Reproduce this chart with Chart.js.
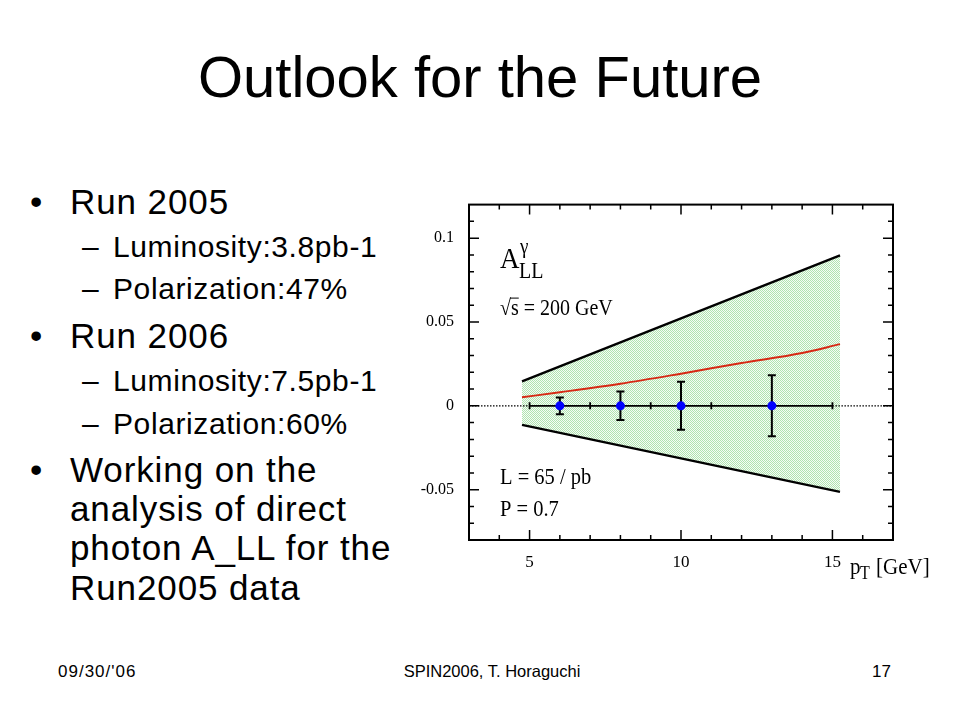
<!DOCTYPE html>
<html>
<head>
<meta charset="utf-8">
<script src="https://cdn.jsdelivr.net/npm/chart.js@4.4.1/dist/chart.umd.min.js"></script>
<style>
  body { margin: 0; background: #fff; }
  #slide { position: relative; width: 960px; height: 720px; overflow: hidden; font-family: "Liberation Sans", Arial, sans-serif; color: #000; }
  .t { position: absolute; white-space: nowrap; line-height: 1; }
  #plot { position: absolute; left: 400px; top: 180px; }
</style>
</head>
<body>
<div id="slide">
  <canvas id="plot" width="560" height="420"></canvas>
</div>
<script>
// slide text
const title = 'Outlook for the Future';
const bullets = [
  { lvl: 1, text: 'Run 2005', base: 214 },
  { lvl: 2, text: 'Luminosity:3.8pb-1', base: 257 },
  { lvl: 2, text: 'Polarization:47%', base: 299 },
  { lvl: 1, text: 'Run 2006', base: 348 },
  { lvl: 2, text: 'Luminosity:7.5pb-1', base: 391 },
  { lvl: 2, text: 'Polarization:60%', base: 434 },
  { lvl: 1, text: 'Working on the', base: 482 },
  { lvl: 0, text: 'analysis of direct', base: 521 },
  { lvl: 0, text: 'photon A_LL for the', base: 560 },
  { lvl: 0, text: 'Run2005 data', base: 600 }
];
const footer = ["09/30/'06", 'SPIN2006, T. Horaguchi', '17'];

// chart data
const bandX = [4.75, 15.25];
const bandUpper = [0.0146, 0.0897];
const bandLower = [-0.0113, -0.0513];
const theoryX = [4.75, 6, 8, 10, 12, 14, 15.25];
const theoryY = [0.0051, 0.0081, 0.0132, 0.0192, 0.0255, 0.0315, 0.0368];
const ptX = [6, 8, 10, 13];
const ptY = [0, 0, 0, 0];
const ptErr = [0.005, 0.0085, 0.0143, 0.0182];
const axisTicksX = [5, 7, 9, 11, 13, 15];
const xLabels = [5, 10, 15];
const yLabels = [-0.05, 0, 0.05, 0.1];

const slide = document.getElementById('slide');
function addText(txt, x, base, size, extra) {
  const d = document.createElement('div');
  d.className = 't';
  d.textContent = txt;
  d.style.fontSize = size + 'px';
  d.style.top = (base - 0.8465 * size) + 'px';
  d.style.left = x + 'px';
  Object.assign(d.style, extra || {});
  slide.appendChild(d);
  return d;
}
addText(title, 0, 97, 58, { width: '960px', textAlign: 'center' });
bullets.forEach(b => {
  if (b.lvl === 2) {
    addText('\u2013', 82, b.base, 30);
    addText(b.text, 113, b.base, 30, { letterSpacing: '0.6px' });
  } else {
    if (b.lvl === 1) addText('\u2022', 30, b.base, 35);
    addText(b.text, 70, b.base, 35, { letterSpacing: '0.9px' });
  }
});
addText(footer[0], 58, 677, 17, { letterSpacing: '1px' });
addText(footer[1], 0, 677, 16.5, { width: '984px', textAlign: 'center' });
addText(footer[2], 872, 677, 17);

// hatched green fill
const pc = document.createElement('canvas');
pc.width = 2; pc.height = 2;
const pctx = pc.getContext('2d');
pctx.fillStyle = 'rgb(246,252,246)'; pctx.fillRect(0, 0, 2, 2);
pctx.fillStyle = 'rgb(176,228,176)'; pctx.fillRect(0, 0, 1, 1); pctx.fillRect(1, 1, 1, 1);
const hatch = pctx.createPattern(pc, 'repeat');

const xy = (xs, ys) => xs.map((x, i) => ({ x: x, y: ys[i] }));

const serif = '"Liberation Serif", "Times New Roman", serif';

// text stretched a little vertically, like the original picture
function tallText(ctx, txt, x, y, size) {
  ctx.save();
  ctx.font = size + 'px ' + serif;
  ctx.translate(x, y);
  ctx.scale(1, 1.12);
  ctx.fillText(txt, 0, 0);
  ctx.restore();
}

const framePlugin = {
  id: 'frame',
  beforeDatasetDraw(chart, args) {
    if (args.index !== 7) return;
    const ctx = chart.ctx, xs = chart.scales.x, ys = chart.scales.y;
    ctx.save();
    ctx.strokeStyle = '#000';
    ctx.lineWidth = 2;
    ptX.forEach((x, i) => {
      const px = xs.getPixelForValue(x);
      const t = ys.getPixelForValue(ptY[i] + ptErr[i]);
      const b = ys.getPixelForValue(ptY[i] - ptErr[i]);
      ctx.beginPath();
      ctx.moveTo(px, t); ctx.lineTo(px, b);
      ctx.moveTo(px - 4, t); ctx.lineTo(px + 4, t);
      ctx.moveTo(px - 4, b); ctx.lineTo(px + 4, b);
      ctx.stroke();
    });
    ctx.restore();
  },
  afterDraw(chart) {
    const ctx = chart.ctx, a = chart.chartArea, xs = chart.scales.x, ys = chart.scales.y;
    ctx.save();
    ctx.strokeStyle = '#000';
    ctx.lineWidth = 2;
    ctx.strokeRect(a.left, a.top, a.right - a.left, a.bottom - a.top);
    ctx.lineWidth = 1.5;
    ctx.beginPath();
    for (let v = 4; v <= 16; v++) {
      const px = xs.getPixelForValue(v);
      const len = v % 5 === 0 ? 10 : 5;
      ctx.moveTo(px, a.bottom); ctx.lineTo(px, a.bottom - len);
      ctx.moveTo(px, a.top); ctx.lineTo(px, a.top + len);
    }
    for (let k = -7; k <= 11; k++) {
      const py = ys.getPixelForValue(k / 100);
      const len = k % 5 === 0 ? 10 : 5;
      ctx.moveTo(a.left, py); ctx.lineTo(a.left + len, py);
      ctx.moveTo(a.right, py); ctx.lineTo(a.right - len, py);
    }
    ctx.stroke();

    // annotations
    ctx.fillStyle = '#000';
    ctx.textBaseline = 'alphabetic';
    const lx = a.left + 31;
    tallText(ctx, 'A', lx, a.top + 63, 27);
    tallText(ctx, '\u03b3', lx + 20, a.top + 48, 19);
    tallText(ctx, 'LL', lx + 19, a.top + 73, 20);
    tallText(ctx, '\u221as = 200 GeV', lx, a.top + 110, 20);
    ctx.font = '20px ' + serif;
    const rw = ctx.measureText('\u221a').width;
    const sw = ctx.measureText('s').width;
    ctx.lineWidth = 1;
    ctx.beginPath();
    ctx.moveTo(lx + rw - 1, a.top + 93.5); ctx.lineTo(lx + rw + sw, a.top + 93.5);
    ctx.stroke();
    tallText(ctx, 'L = 65 / pb', lx, a.top + 279, 20.5);
    tallText(ctx, 'P = 0.7', lx, a.top + 311, 20.5);
    const px0 = a.right - 43;
    tallText(ctx, 'p', px0, a.bottom + 34, 21);
    tallText(ctx, 'T', px0 + 10, a.bottom + 39, 16);
    tallText(ctx, '[GeV]', px0 + 26, a.bottom + 34, 21);
    ctx.restore();
  }
};

new Chart(document.getElementById('plot'), {
  type: 'scatter',
  data: {
    datasets: [
      { data: xy(bandX, bandUpper), showLine: true, borderColor: '#000', borderWidth: 2.3, pointRadius: 0,
        fill: '+1', backgroundColor: hatch, order: 5 },
      { data: xy(bandX, bandLower), showLine: true, borderColor: '#000', borderWidth: 2.3, pointRadius: 0,
        fill: false, order: 4 },
      { data: xy(theoryX, theoryY), showLine: true, borderColor: 'rgb(215,40,20)', borderWidth: 2,
        pointRadius: 0, cubicInterpolationMode: 'monotone', order: 3 },
      { data: [{ x: 5, y: 0 }, { x: 15, y: 0 }], showLine: true, borderColor: '#000', borderWidth: 1.8,
        pointRadius: 0, order: 2 },
      { data: [{ x: 3, y: 0 }, { x: 5, y: 0 }], showLine: true, borderColor: '#000', borderWidth: 1.2,
        borderDash: [1.5, 1.5], pointRadius: 0, order: 2 },
      { data: [{ x: 15, y: 0 }, { x: 17, y: 0 }], showLine: true, borderColor: '#000', borderWidth: 1.2,
        borderDash: [1.5, 1.5], pointRadius: 0, order: 2 },
      { data: axisTicksX.map(x => ({ x: x, y: 0 })), pointStyle: 'line', rotation: 90, pointRadius: 3.5,
        borderColor: '#000', borderWidth: 1.8, order: 2 },
      { data: xy(ptX, ptY), pointStyle: 'circle', pointRadius: 4.5, backgroundColor: 'rgb(0,0,255)',
        borderColor: 'rgb(0,0,255)', borderWidth: 0, order: 1 }
    ]
  },
  options: {
    responsive: false,
    animation: false,
    devicePixelRatio: 1,
    layout: { padding: { top: 24, right: 67, left: 0, bottom: 0 } },
    plugins: { legend: { display: false }, tooltip: { enabled: false } },
    scales: {
      x: {
        type: 'linear', min: 3, max: 17,
        grid: { display: false, drawTicks: false },
        border: { display: false },
        afterFit: s => { s.height = 60; },
        ticks: {
          stepSize: 1, autoSkip: false, maxRotation: 0, padding: 12, color: '#000',
          font: { family: serif, size: 17 },
          callback: v => xLabels.includes(v) ? String(v) : ''
        }
      },
      y: {
        type: 'linear', min: -0.08, max: 0.12,
        grid: { display: false, drawTicks: false },
        border: { display: false },
        afterFit: s => { s.width = 69; },
        afterBuildTicks: s => { s.ticks = yLabels.map(v => ({ value: v })); },
        ticks: {
          autoSkip: false, padding: 15, color: '#000',
          font: { family: serif, size: 16 },
          callback: v => String(Math.round(v * 100) / 100)
        }
      }
    }
  },
  plugins: [framePlugin]
});
</script>
</body>
</html>
